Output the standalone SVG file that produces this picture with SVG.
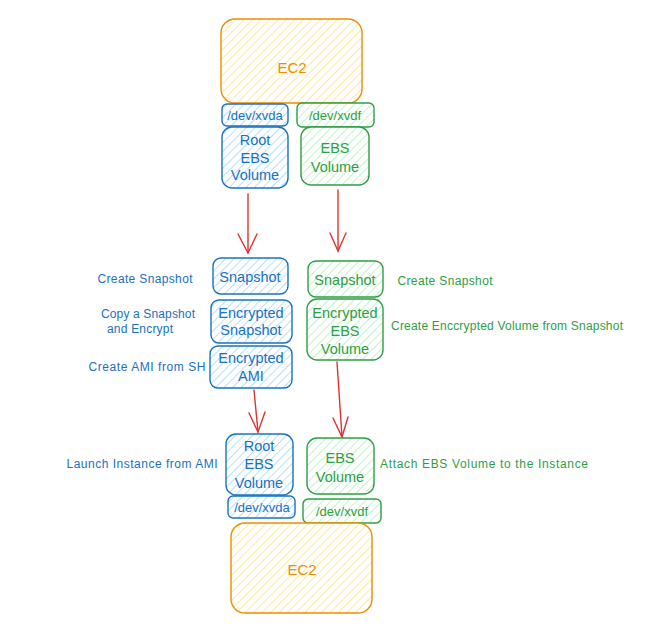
<svg xmlns="http://www.w3.org/2000/svg" width="651" height="631" viewBox="0 0 651 631">
<style>
text{font-family:"Liberation Sans",Arial,sans-serif;dominant-baseline:central;text-anchor:middle}
.o{stroke:#f08c00;fill:url(#ho);stroke-width:1.4}
.b{stroke:#1971c2;fill:url(#hb);stroke-width:1.4}
.g{stroke:#2f9e44;fill:url(#hg);stroke-width:1.4}
.to{fill:#f08c00;font-size:15px}
.tb{fill:#1971c2;font-size:14.5px}
.tg{fill:#2f9e44;font-size:14.5px}
.dev{font-size:13px}
.lb{fill:#1971c2;font-size:12px}
.lg{fill:#2f9e44;font-size:12px}
.arr{stroke:#e03131;stroke-width:1.4;fill:none;stroke-linecap:round}
</style>
<defs>
<pattern id="ho" width="6" height="6" patternUnits="userSpaceOnUse" patternTransform="rotate(45)"><rect width="6" height="6" fill="#fff"/><line x1="0" y1="0" x2="0" y2="6" stroke="#ffe583" stroke-width="1.6"/></pattern>
<pattern id="hb" width="6" height="6" patternUnits="userSpaceOnUse" patternTransform="rotate(45)"><rect width="6" height="6" fill="#fff"/><line x1="0" y1="0" x2="0" y2="6" stroke="#a5d8ff" stroke-width="1.6"/></pattern>
<pattern id="hg" width="6" height="6" patternUnits="userSpaceOnUse" patternTransform="rotate(45)"><rect width="6" height="6" fill="#fff"/><line x1="0" y1="0" x2="0" y2="6" stroke="#b2f2bb" stroke-width="1.6"/></pattern>
</defs>
<rect width="651" height="631" fill="#fff"/>
<g id="connectors">
<path class="arr" d="M248 194 L248 253"/><path class="arr" d="M238 234 L248 253 L257 234"/>
<path class="arr" d="M338 190 L338 251"/><path class="arr" d="M330 233 L338 251 L346 233"/>
<path class="arr" d="M254 390 L258 432"/><path class="arr" d="M249 413 L258 432 L265 412"/>
<path class="arr" d="M337 362 L342 437"/><path class="arr" d="M333 418 L342 437 L348 417"/>
</g>
<g id="ec2-top"><rect class="o" x="221" y="19" width="141" height="84" rx="14"/><text class="to" x="292" y="67">EC2</text></g>
<g id="xvda-top"><rect class="b" x="222" y="104" width="66" height="22" rx="5"/><text class="tb dev" x="255" y="115">/dev/xvda</text></g>
<g id="xvdf-top"><rect class="g" x="297" y="103" width="77" height="24" rx="5"/><text class="tg dev" x="335" y="115">/dev/xvdf</text></g>
<g id="root-ebs-top"><rect class="b" x="222" y="127" width="66" height="61" rx="10"/><text class="tb" x="255" y="140">Root</text><text class="tb" x="255" y="157.5">EBS</text><text class="tb" x="255" y="175">Volume</text></g>
<g id="ebs-top"><rect class="g" x="301" y="127" width="68" height="58" rx="10"/><text class="tg" x="335" y="148">EBS</text><text class="tg" x="335" y="167">Volume</text></g>
<g id="snapshot-blue"><rect class="b" x="213" y="258" width="75" height="36" rx="8"/><text class="tb" x="250" y="277">Snapshot</text></g>
<g id="enc-snapshot"><rect class="b" x="211" y="300" width="81" height="43" rx="8"/><text class="tb" x="251" y="313">Encrypted</text><text class="tb" x="251" y="330">Snapshot</text></g>
<g id="enc-ami"><rect class="b" x="210" y="346" width="82" height="42" rx="8"/><text class="tb" x="251" y="358">Encrypted</text><text class="tb" x="251" y="376">AMI</text></g>
<g id="snapshot-green"><rect class="g" x="308" y="261" width="75" height="36" rx="8"/><text class="tg" x="345" y="280">Snapshot</text></g>
<g id="enc-ebs"><rect class="g" x="307" y="299" width="76" height="61" rx="10"/><text class="tg" x="345" y="313">Encrypted</text><text class="tg" x="345" y="330.5">EBS</text><text class="tg" x="345" y="349">Volume</text></g>
<g id="root-ebs-bottom"><rect class="b" x="226" y="434" width="67" height="61" rx="10"/><text class="tb" x="259" y="446">Root</text><text class="tb" x="259" y="464">EBS</text><text class="tb" x="259" y="483">Volume</text></g>
<g id="xvda-bottom"><rect class="b" x="228" y="496" width="67" height="22" rx="5"/><text class="tb dev" x="262" y="507">/dev/xvda</text></g>
<g id="ebs-bottom"><rect class="g" x="307" y="438" width="67" height="56" rx="10"/><text class="tg" x="340" y="458">EBS</text><text class="tg" x="340" y="477">Volume</text></g>
<g id="xvdf-bottom"><rect class="g" x="303" y="499" width="78" height="24" rx="5"/><text class="tg dev" x="342" y="511">/dev/xvdf</text></g>
<g id="ec2-bottom"><rect class="o" x="231" y="523" width="141" height="90" rx="14"/><text class="to" x="302" y="569">EC2</text></g>
<g id="labels">
<text class="lb" x="145" y="279" textLength="95">Create Snapshot</text>
<text class="lb" x="148" y="314" textLength="94">Copy a Snapshot</text>
<text class="lb" x="140" y="329" textLength="66">and Encrypt</text>
<text class="lb" x="147" y="367" textLength="117">Create AMI from SH</text>
<text class="lb" x="142" y="464" textLength="151">Launch Instance from AMI</text>
<text class="lg" x="445" y="281" textLength="95">Create Snapshot</text>
<text class="lg" x="507" y="326" textLength="232">Create Enccrypted Volume from Snapshot</text>
<text class="lg" x="484" y="464" textLength="208">Attach EBS Volume to the Instance</text>
</g>
</svg>
